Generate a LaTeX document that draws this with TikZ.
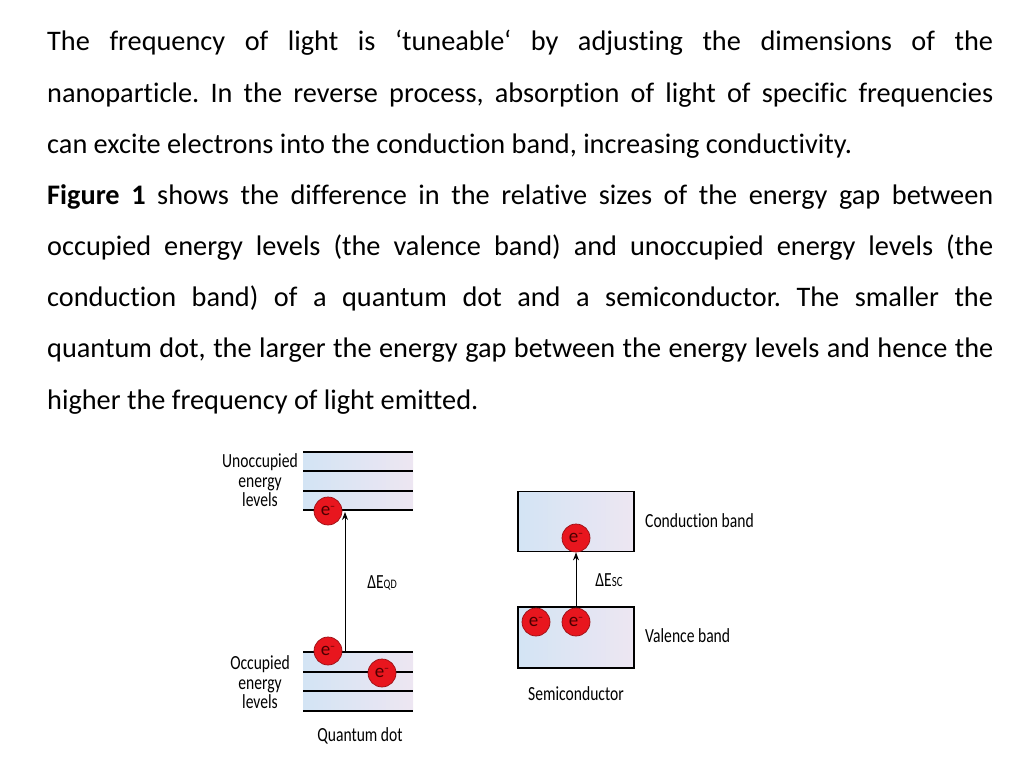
\documentclass[tikz,border=0pt]{standalone}
\usepackage{fontspec}
\setmainfont[Ligatures=NoCommon]{Carlito}
\newfontfamily\figfont[FakeStretch=0.78,Ligatures=NoCommon]{Carlito}
\newfontfamily\efont[Ligatures=NoCommon]{Carlito}
\usetikzlibrary{arrows.meta}
\definecolor{bandL}{HTML}{D3E4F4}
\definecolor{bandR}{HTML}{EDE6F2}
\definecolor{ered}{HTML}{E8161E}
\definecolor{eborder}{HTML}{9A1015}
\definecolor{etext}{HTML}{4A0000}
\frenchspacing
\newcommand{\elabel}{\textcolor{etext}{e\raisebox{0.35em}{\fontsize{10}{10}\selectfont –}}}
\begin{document}
\begin{tikzpicture}[x=1pt,y=-1pt,
 para/.style={anchor=base west, inner sep=0pt, font=\fontsize{28.3}{30}\selectfont},
 elec/.style={circle, minimum size=28pt, inner sep=0pt, fill=ered, draw=eborder, line width=0.7pt, font=\efont\fontsize{19}{19}\selectfont},
 lbl/.style={font=\figfont\fontsize{20}{19.5}\selectfont, align=center, inner sep=0pt},
 level/.style={line width=1.4pt},
 band/.style={left color=bandL, right color=bandR},
 sbox/.style={band, draw, line width=1.4pt, minimum width=116pt, inner sep=0pt},
 arr/.style={-{Stealth[length=8pt,width=6pt]}, line width=0.9pt}]
\useasboundingbox (0,0) rectangle (1024,768);

% paragraph text
\node[para] (t1) at (47,51) {\makebox[946pt][s]{The frequency of light is ‘tuneable‘ by adjusting the dimensions of the}};
\node[para] (t2) at (47,102.2) {\makebox[946pt][s]{nanoparticle. In the reverse process, absorption of light of specific frequencies}};
\node[para] (t3) at (47,153.3) {can excite electrons into the conduction band, increasing conductivity.};
\node[para] (t4) at (47,204.5) {\makebox[946pt][s]{\textbf{Figure 1} shows the difference in the relative sizes of the energy gap between}};
\node[para] (t5) at (47,255.6) {\makebox[946pt][s]{occupied energy levels (the valence band) and unoccupied energy levels (the}};
\node[para] (t6) at (47,306.8) {\makebox[946pt][s]{conduction band) of a quantum dot and a semiconductor. The smaller the}};
\node[para] (t7) at (47,357.9) {\makebox[946pt][s]{quantum dot, the larger the energy gap between the energy levels and hence the}};
\node[para] (t8) at (47,409) {higher the frequency of light emitted.};

% quantum dot levels
\fill[band] (303,452) rectangle (413,510);
\fill[band] (303,652) rectangle (413,711);
\foreach \yy in {452,471,491,510,652,672,691,711}
  \draw[level] (303,\yy) -- (413,\yy);

\coordinate (qlow) at (345,651);
\coordinate (qhigh) at (345,512);
\draw[arr] (qlow) -- (qhigh);

\node[elec] (qe1) at (328,511) {\elabel};
\node[elec] (qe2) at (328,651) {\elabel};
\node[elec] (qe3) at (382,673) {\elabel};

\node[lbl] (unocc) at (260,480.5) {Unoccupied\\energy\\levels};
\node[lbl] (occ) at (260,682.5) {Occupied\\energy\\levels};
\node[lbl] (dqd) at (382,583) {ΔE{\fontsize{13}{13}\selectfont QD}};
\node[lbl] (qdlab) at (360,736) {Quantum dot};

% semiconductor
\node[sbox, minimum height=60pt] (cb) at (576,521.7) {};
\node[sbox, minimum height=61pt] (vb) at (576,637.5) {};
\draw[arr] (vb.north) -- (cb.south);
\node[elec] (se1) at (576,538) {\elabel};
\node[elec] (se2) at (536,622) {\elabel};
\node[elec] (se3) at (576,622) {\elabel};

\node[lbl, anchor=west] (cblab) at (645,521) {Conduction band};
\node[lbl, anchor=west] (vblab) at (645,636) {Valence band};
\node[lbl] (dsc) at (609,580) {ΔE{\fontsize{14}{14}\selectfont SC}};
\node[lbl] (sclab) at (576,694) {Semiconductor};
\end{tikzpicture}
\end{document}
